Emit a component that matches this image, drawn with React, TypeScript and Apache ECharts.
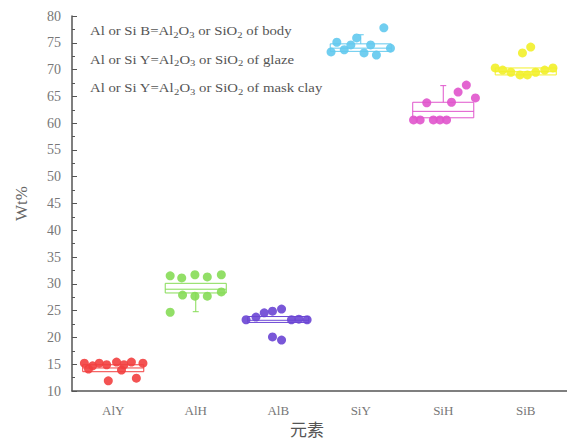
import React, { useEffect, useRef } from "react";
import * as echarts from "echarts";

const categories = ["AlY", "AlH", "AlB", "SiY", "SiH", "SiB"];
const yTicks = { min: 10, max: 80, interval: 5 };

// box statistics per category
const boxMin = [13.6, 24.8, 22.8, 73.4, 61.0, 69.0];
const boxQ1 = [13.6, 28.3, 22.8, 73.4, 61.0, 69.0];
const boxMedian = [14.3, 29.0, 23.2, 74.0, 62.2, 69.6];
const boxQ3 = [14.9, 30.1, 23.9, 74.8, 63.9, 70.3];
const boxMax = [14.9, 30.1, 23.9, 76.5, 67.0, 70.3];

// individual points (horizontal jitter offset in category units, value)
const alyOffsets = [-0.35, -0.25, -0.17, -0.08, 0.04, 0.13, 0.22, 0.36, -0.3, 0.1, -0.06, 0.28];
const alyValues = [15.2, 14.7, 15.2, 14.9, 15.4, 14.9, 15.4, 15.2, 14.1, 13.9, 11.9, 12.4];
const alhOffsets = [-0.31, -0.17, -0.01, 0.14, 0.31, -0.16, -0.01, 0.14, 0.31, -0.31];
const alhValues = [31.5, 31.1, 31.7, 31.3, 31.7, 27.9, 27.7, 27.7, 28.5, 24.7];
const albOffsets = [-0.39, -0.27, -0.17, -0.07, 0.04, 0.16, 0.25, 0.35, -0.07, 0.04];
const albValues = [23.3, 23.8, 24.6, 24.9, 25.3, 23.3, 23.4, 23.3, 20.1, 19.5];
const siyOffsets = [-0.36, -0.29, -0.2, -0.12, -0.05, 0.04, 0.12, 0.19, 0.28, 0.36];
const siyValues = [73.3, 75.1, 73.7, 74.6, 75.9, 73.1, 74.6, 72.7, 77.8, 74.0];
const sihOffsets = [-0.36, -0.28, -0.12, -0.04, 0.04, -0.2, 0.1, 0.18, 0.28, 0.39];
const sihValues = [60.6, 60.6, 60.6, 60.6, 60.6, 63.8, 63.9, 65.8, 67.1, 64.7];
const sibOffsets = [-0.37, -0.28, -0.18, -0.07, 0.02, 0.12, 0.23, 0.33, -0.04, 0.06];
const sibValues = [70.3, 69.9, 69.5, 69.0, 69.0, 69.5, 69.9, 70.3, 73.1, 74.2];

const pointOffsets = [alyOffsets, alhOffsets, albOffsets, siyOffsets, sihOffsets, sibOffsets];
const pointValues = [alyValues, alhValues, albValues, siyValues, sihValues, sibValues];

const legendLines = [
  "Al or Si B=Al{s|2}O{s|3} or SiO{s|2} of body",
  "Al or Si Y=Al{s|2}O{s|3} or SiO{s|2} of glaze",
  "Al or Si Y=Al{s|2}O{s|3} or SiO{s|2} of mask clay",
];

const palette = ["#f23f3f", "#86dc56", "#6a45d4", "#62c9ee", "#e054cc", "#f2f02a"];
const serif = "'Liberation Serif', 'DejaVu Serif', serif";

export default function App() {
  const ref = useRef<HTMLDivElement>(null);
  useEffect(() => {
    if (!ref.current) return;
    const chart = echarts.init(ref.current, null, { renderer: "svg" });
    const boxData = categories.map((_, i) => [i, boxMin[i], boxQ1[i], boxMedian[i], boxQ3[i], boxMax[i]]);
    const scatterSeries = categories.map((c, i) => ({
      type: "scatter",
      name: c,
      xAxisIndex: 1,
      yAxisIndex: 0,
      symbolSize: 9,
      z: 5,
      itemStyle: { color: palette[i], opacity: 0.9 },
      data: pointValues[i].map((v, k) => [i + pointOffsets[i][k], v]),
    }));
    chart.setOption({
      animation: false,
      backgroundColor: "#fff",
      grid: { left: 72, top: 16, width: 498, height: 375 },
      xAxis: [
        {
          type: "category",
          data: categories,
          boundaryGap: true,
          axisLine: { onZero: false, lineStyle: { color: "#555", width: 1.5 } },
          axisTick: { inside: true, alignWithLabel: true, length: 4, lineStyle: { color: "#555" } },
          axisLabel: { color: "#777", fontFamily: serif, fontSize: 13, margin: 13 },
          splitLine: { show: false },
        },
        { type: "value", min: -0.5, max: 5.5, show: false },
      ],
      yAxis: {
        type: "value",
        min: yTicks.min,
        max: yTicks.max,
        interval: yTicks.interval,
        name: "Wt%",
        nameLocation: "middle",
        nameGap: 42,
        nameRotate: 90,
        nameTextStyle: { color: "#666", fontFamily: serif, fontSize: 17 },
        axisLine: { show: true, onZero: false, lineStyle: { color: "#555", width: 1.5 } },
        axisTick: { show: true, inside: true, length: 5, lineStyle: { color: "#555" } },
        minorTick: { show: true, splitNumber: 2, length: 3, lineStyle: { color: "#555" } },
        axisLabel: { color: "#777", fontFamily: serif, fontSize: 14, margin: 11 },
        splitLine: { show: false },
      },
      graphic: [
        ...legendLines.map((t, i) => ({
          type: "text",
          x: 90,
          y: 23 + i * 28.5,
          scaleX: 1.18,
          style: {
            text: t,
            fill: "#555",
            font: `12.5px ${serif}`,
            verticalAlign: "top",
            rich: {
              s: { fontSize: 9, fontFamily: serif, fill: "#555", padding: [7, 0, 0, 0] },
            },
          },
        })),
        {
          type: "text",
          left: 290,
          top: 420,
          style: { text: "元素", fill: "#555", font: "17px 'Noto Sans CJK SC', serif" },
        },
      ],
      series: [
        {
          type: "custom",
          xAxisIndex: 0,
          yAxisIndex: 0,
          z: 3,
          encode: { x: 0, y: [1, 2, 3, 4, 5] },
          data: boxData,
          renderItem: (params: any, api: any) => {
            const i = api.value(0);
            const c = palette[params.dataIndex];
            const w = api.size([1, 0])[0] * 0.74;
            const x = api.coord([i, api.value(3)])[0];
            const yMin = api.coord([i, api.value(1)])[1];
            const yQ1 = api.coord([i, api.value(2)])[1];
            const yMed = api.coord([i, api.value(3)])[1];
            const yQ3 = api.coord([i, api.value(4)])[1];
            const yMax = api.coord([i, api.value(5)])[1];
            const ls = { stroke: c, lineWidth: 1, fill: "none" };
            const children: any[] = [
              { type: "rect", shape: { x: x - w / 2, y: yQ3, width: w, height: yQ1 - yQ3 }, style: ls },
              { type: "line", shape: { x1: x - w / 2, y1: yMed, x2: x + w / 2, y2: yMed }, style: ls },
            ];
            if (yMax < yQ3 - 0.5) {
              children.push({ type: "line", shape: { x1: x, y1: yQ3, x2: x, y2: yMax }, style: ls });
              children.push({ type: "line", shape: { x1: x - 3, y1: yMax, x2: x + 3, y2: yMax }, style: ls });
            }
            if (yMin > yQ1 + 0.5) {
              children.push({ type: "line", shape: { x1: x, y1: yQ1, x2: x, y2: yMin }, style: ls });
              children.push({ type: "line", shape: { x1: x - 3, y1: yMin, x2: x + 3, y2: yMin }, style: ls });
            }
            return { type: "group", children };
          },
        },
        ...scatterSeries,
      ],
    });
    return () => chart.dispose();
  }, []);
  return <div ref={ref} style={{ position: "fixed", left: 0, top: 0, width: 567, height: 445 }} />;
}
